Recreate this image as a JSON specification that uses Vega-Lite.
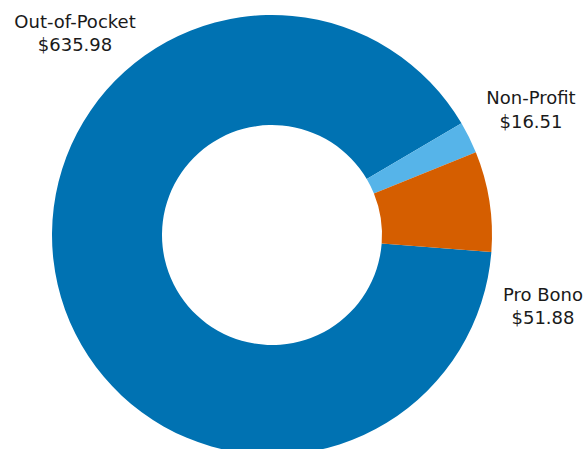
{
  "$schema": "https://vega.github.io/schema/vega-lite/v6.json",
  "autosize": "none",
  "width": 500,
  "height": 450,
  "padding": {"left": 22, "top": 10, "right": 65, "bottom": 0},
  "background": "white",
  "config": {"view": {"stroke": null}, "text": {"font": "DejaVu Sans", "fontSize": 18, "color": "#1a1a1a"}},
  "data": {
    "values": [
      {"category": "Out-of-Pocket", "amount": 635.98},
      {"category": "Non-Profit", "amount": 16.51},
      {"category": "Pro Bono", "amount": 51.88}
    ]
  },
  "layer": [
    {
      "mark": {"type": "arc", "innerRadius": 110, "outerRadius": 220},
      "encoding": {
        "theta": {"field": "amount", "type": "quantitative", "stack": true, "scale": {"range": [1.1851, 7.4683]}},
        "order": {"field": "category", "sort": "descending"},
        "color": {
          "field": "category",
          "type": "nominal",
          "legend": null,
          "scale": {"domain": ["Out-of-Pocket", "Non-Profit", "Pro Bono"], "range": ["#0072B2", "#56B4E9", "#D55E00"]}
        }
      }
    },
    {
      "transform": [{"filter": "datum.category === 'Out-of-Pocket'"}],
      "layer": [
        {"mark": {"type": "text", "align": "center", "baseline": "alphabetic", "dx": -197, "dy": -207}, "encoding": {"text": {"field": "category"}}},
        {"mark": {"type": "text", "align": "center", "baseline": "alphabetic", "dx": -197, "dy": -184}, "encoding": {"text": {"field": "amount", "type": "quantitative", "format": "$,.2f"}}}
      ]
    },
    {
      "transform": [{"filter": "datum.category === 'Non-Profit'"}],
      "layer": [
        {"mark": {"type": "text", "align": "center", "baseline": "alphabetic", "dx": 259, "dy": -131}, "encoding": {"text": {"field": "category"}}},
        {"mark": {"type": "text", "align": "center", "baseline": "alphabetic", "dx": 259, "dy": -107}, "encoding": {"text": {"field": "amount", "type": "quantitative", "format": "$,.2f"}}}
      ]
    },
    {
      "transform": [{"filter": "datum.category === 'Pro Bono'"}],
      "layer": [
        {"mark": {"type": "text", "align": "center", "baseline": "alphabetic", "dx": 271, "dy": 66}, "encoding": {"text": {"field": "category"}}},
        {"mark": {"type": "text", "align": "center", "baseline": "alphabetic", "dx": 271, "dy": 89}, "encoding": {"text": {"field": "amount", "type": "quantitative", "format": "$,.2f"}}}
      ]
    }
  ]
}
